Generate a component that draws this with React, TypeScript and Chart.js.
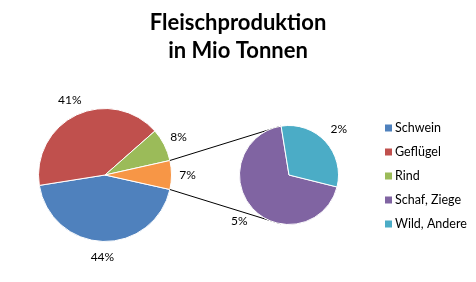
import React, { useEffect, useRef } from 'react';
import { Chart, registerables } from 'chart.js';

Chart.register(...registerables);

// ---- data ----
const categories = ['Schwein', 'Geflügel', 'Rind', 'Schaf, Ziege', 'Wild, Andere'];
const values = [44, 41, 8, 4.8, 2.2];
const colors = ['#4F81BD', '#C0504D', '#9BBB59', '#8064A2', '#4BACC6'];
const otherLabel = 'Andere';
const otherColor = '#F79646';
const titleLines = ['Fleischproduktion', 'in Mio Tonnen'];
const splitIndex = 3; // categories from this index go to the secondary pie

const FONT = 'Lato, "Open Sans", sans-serif';

export default function App() {
  const mainRef = useRef<HTMLCanvasElement>(null);
  const subRef = useRef<HTMLCanvasElement>(null);

  useEffect(() => {
    const total = values.reduce((a, b) => a + b, 0);
    const mainVals = values.slice(0, splitIndex);
    const subVals = values.slice(splitIndex);
    const otherSum = subVals.reduce((a, b) => a + b, 0);
    const mainData = [...mainVals, otherSum];
    const pct = (v: number) => Math.round((v / total) * 100) + '%';

    const labelPlugin = (offset: number) => ({
      id: 'pctLabels',
      afterDatasetsDraw(chart: any) {
        const ctx = chart.ctx;
        const meta = chart.getDatasetMeta(0);
        const data = chart.data.datasets[0].data as number[];
        ctx.save();
        ctx.font = `12px ${FONT}`;
        ctx.fillStyle = '#000';
        ctx.textAlign = 'center';
        ctx.textBaseline = 'middle';
        meta.data.forEach((arc: any, i: number) => {
          const p = arc.getProps(['x', 'y', 'startAngle', 'endAngle', 'outerRadius'], true);
          const mid = (p.startAngle + p.endAngle) / 2;
          const r = p.outerRadius + offset;
          ctx.fillText(pct(data[i]), p.x + Math.cos(mid) * r, p.y + Math.sin(mid) * r);
        });
        ctx.restore();
      },
    });

    const subLeft = 219;
    const subTop = 105;

    const sub = new Chart(subRef.current!, {
      type: 'pie',
      data: {
        labels: categories.slice(splitIndex),
        datasets: [
          {
            data: subVals,
            backgroundColor: colors.slice(splitIndex),
            borderColor: '#ffffff',
            borderWidth: 1,
          },
        ],
      },
      options: {
        responsive: false,
        animation: false,
        devicePixelRatio: 1,
        rotation: 104,
        layout: { padding: 20 },
        plugins: { legend: { display: false }, tooltip: { enabled: false }, title: { display: false } },
      },
      plugins: [labelPlugin(18)],
    });

    const decorPlugin = {
      id: 'decor',
      afterDatasetsDraw(chart: any) {
        const ctx = chart.ctx;
        ctx.save();
        // title
        ctx.fillStyle = '#000';
        ctx.font = `bold 22px ${FONT}`;
        ctx.textAlign = 'center';
        ctx.textBaseline = 'alphabetic';
        titleLines.forEach((t, i) => ctx.fillText(t, 238, 30 + i * 28));

        // connector lines
        const meta = chart.getDatasetMeta(0);
        const other = meta.data[meta.data.length - 1].getProps(
          ['x', 'y', 'startAngle', 'endAngle', 'outerRadius'],
          true
        );
        const sArc = sub.getDatasetMeta(0).data[0].getProps(['x', 'y', 'outerRadius'], true);
        const sx = sArc.x + subLeft;
        const sy = sArc.y + subTop;
        const sr = sArc.outerRadius;
        const tilt = (10 * Math.PI) / 180;
        const topT = -Math.PI / 2 - tilt;
        const botT = Math.PI / 2 + tilt;
        ctx.strokeStyle = '#000';
        ctx.lineWidth = 1;
        ctx.beginPath();
        ctx.moveTo(other.x + Math.cos(other.startAngle) * other.outerRadius, other.y + Math.sin(other.startAngle) * other.outerRadius);
        ctx.lineTo(sx + Math.cos(topT) * sr, sy + Math.sin(topT) * sr);
        ctx.moveTo(other.x + Math.cos(other.endAngle) * other.outerRadius, other.y + Math.sin(other.endAngle) * other.outerRadius);
        ctx.lineTo(sx + Math.cos(botT) * sr, sy + Math.sin(botT) * sr);
        ctx.stroke();

        // legend
        ctx.font = `12.5px ${FONT}`;
        ctx.textAlign = 'left';
        ctx.textBaseline = 'middle';
        categories.forEach((c, i) => {
          const y = 128 + i * 24;
          ctx.fillStyle = colors[i];
          ctx.fillRect(385, y - 3.5, 7, 7);
          ctx.fillStyle = '#000';
          ctx.fillText(c, 395, y);
        });
        ctx.restore();
      },
    };

    const otherShare = otherSum / total;
    const main = new Chart(mainRef.current!, {
      type: 'pie',
      data: {
        labels: [...categories.slice(0, splitIndex), otherLabel],
        datasets: [
          {
            data: mainData,
            backgroundColor: [...colors.slice(0, splitIndex), otherColor],
            borderColor: '#ffffff',
            borderWidth: 1,
          },
        ],
      },
      options: {
        responsive: false,
        animation: false,
        devicePixelRatio: 1,
        rotation: 90 + otherShare * 180,
        layout: { padding: { left: 38, top: 108, right: 304, bottom: 40 } },
        plugins: { legend: { display: false }, tooltip: { enabled: false }, title: { display: false } },
      },
      plugins: [labelPlugin(16), decorPlugin],
    });

    return () => {
      main.destroy();
      sub.destroy();
    };
  }, []);

  return (
    <div style={{ position: 'fixed', left: 0, top: 0, width: 476, height: 282, background: '#fff' }}>
      <canvas
        ref={mainRef}
        width={476}
        height={282}
        style={{ position: 'absolute', left: 0, top: 0, width: 476, height: 282 }}
      />
      <canvas
        ref={subRef}
        width={140}
        height={140}
        style={{ position: 'absolute', left: 219, top: 105, width: 140, height: 140 }}
      />
    </div>
  );
}
